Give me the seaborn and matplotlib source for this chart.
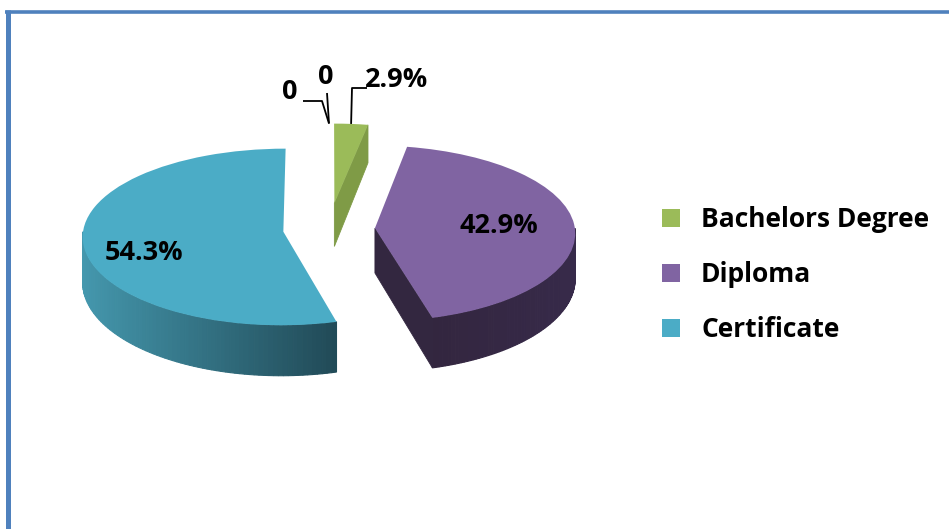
import numpy as np
import matplotlib
matplotlib.use("Agg")
import matplotlib.pyplot as plt
import seaborn as sns
from matplotlib.patches import Polygon
from matplotlib.lines import Line2D
from matplotlib.colors import to_rgb
from matplotlib.transforms import Transform

# ---- data -------------------------------------------------------------
categories = ["", "", "Bachelors Degree", "Diploma", "Certificate"]
shares = [0.0, 0.0, 2.9, 42.9, 54.3]          # percent of respondents
value_labels = ["0", "0", "2.9%", "42.9%", "54.3%"]

# ---- style ------------------------------------------------------------
sns.set_theme(style="white")
FONT = ["Open Sans", "DejaVu Sans"]
plt.rcParams["font.family"] = FONT

top_colors = ["#F79646", "#C0504D", "#9BBB59", "#8064A2", "#4BACC6"]
# rim shading: (left colour, right colour) of the visible outer wall
rim_colors = [None, None, ("#7F9B46", "#7F9B46"),
              ("#33263F", "#372A4A"), ("#4599AF", "#214A57")]
cut_colors = ["#7F9B46", "#7F9B46", "#7F9B46", "#332740", "#2A6676"]
explode = [0.3, 0.3, 0.3, 0.23, 0.23]

W, H = 949, 529
CX, CY = 329, 229          # pie centre, pixels
PX_X, PX_Y = 200, 88       # pixels per data unit (gives the tilted ellipse)
DEPTH = 0.51               # wall height in data units
KX, KY = 0.05, 0.06        # foreshortening of the far side


class Tilt(Transform):
    """Mild perspective: the back of the pie is drawn a little smaller."""
    input_dims = output_dims = 2
    is_separable = False
    has_inverse = False

    def transform_non_affine(self, values):
        v = np.asarray(values, dtype=float)
        x, y = v[..., 0], v[..., 1]
        return np.stack([x * (1 - KX * y), y * (1 - KY * y)], axis=-1)


tilt = Tilt()


def rim_point(x, y):
    """top and bottom of the wall below pie-plane point (x, y), screen data"""
    tx, ty = tilt.transform([[x, y]])[0]
    return (tx, ty), (tx, ty - DEPTH * (1 - 2 * KY * y))


fig = plt.figure(figsize=(W / 100, H / 100), dpi=100)
ax = fig.add_axes([0, 0, 1, 1])

wedges, _ = ax.pie(shares, explode=explode, colors=top_colors, startangle=90,
                   counterclock=False, radius=1,
                   wedgeprops=dict(linewidth=0, zorder=3))
ax.set_aspect("auto")
ax.set_xlim(-CX / PX_X, (W - CX) / PX_X)
ax.set_ylim(-(H - CY) / PX_Y, CY / PX_Y)
ax.axis("off")
pie_tr = tilt + ax.transData
for w in wedges:
    w.set_transform(pie_tr)


def blend(c1, c2, t):
    a, b = np.array(to_rgb(c1)), np.array(to_rgb(c2))
    return tuple(a + (b - a) * t)


# walls of the 3D pie
for w, rim, cut in zip(wedges, rim_colors, cut_colors):
    if w.theta2 - w.theta1 < 1e-6:
        continue
    cx, cy = w.center
    t1, t2 = w.theta1, w.theta2
    # outer wall: only the front half (sin < 0) is visible
    for k in (-1, 0, 1):
        lo, hi = max(t1, -180 + 360 * k), min(t2, 360 * k)
        if hi - lo <= 0:
            continue
        angs = np.radians(np.linspace(lo, hi, 80))
        xs = np.cos(angs)
        span = (xs.min(), xs.max())
        for i in range(len(angs) - 1):
            a0, a1 = angs[i], angs[i + 1]
            xm = 0.5 * (np.cos(a0) + np.cos(a1))
            t = 0 if span[1] == span[0] else (xm - span[0]) / (span[1] - span[0])
            col = blend(rim[0], rim[1], t)
            top0, bot0 = rim_point(cx + np.cos(a0), cy + np.sin(a0))
            top1, bot1 = rim_point(cx + np.cos(a1), cy + np.sin(a1))
            ax.add_patch(Polygon([top0, top1, bot1, bot0], closed=True,
                                 facecolor=col, edgecolor=col, lw=0.8, zorder=2))
    # cut faces along the radii
    for ang, sign in ((t1, 1), (t2, -1)):
        c = np.cos(np.radians(ang))
        if sign * c > 1e-3:
            ctop, cbot = rim_point(cx, cy)
            etop, ebot = rim_point(cx + c, cy + np.sin(np.radians(ang)))
            ax.add_patch(Polygon([ctop, etop, ebot, cbot], closed=True,
                                 facecolor=cut, edgecolor=cut, lw=0.6, zorder=2))


def px(x, y):
    """pixel position -> data coordinates"""
    return (x - CX) / PX_X, (CY - y) / PX_Y


label_font = dict(fontsize=19.5, fontweight="bold", color="black", zorder=5)

# labels inside the two large slices
for i, (rf, dy) in {3: (0.62, 0.0), 4: (0.69, -0.15)}.items():
    w = wedges[i]
    m = np.radians(0.5 * (w.theta1 + w.theta2))
    pos = tilt.transform([[w.center[0] + rf * np.cos(m),
                           w.center[1] + rf * np.sin(m) + dy]])[0]
    ax.text(*pos, value_labels[i], ha="center", va="center", **label_font)

# labels with leader lines for the thin slices at the top
callouts = {0: ((290, 92), (303, 101), (322, 101)),
            1: ((326, 77), (327, 93), (327, 93)),
            2: ((397, 80), (367, 88), (352, 88))}
for i, (lab, start, elbow) in callouts.items():
    w = wedges[i]
    m = np.radians(0.5 * (w.theta1 + w.theta2))
    anchor = tilt.transform([[w.center[0] + np.cos(m), w.center[1] + np.sin(m)]])[0]
    x0, y0 = px(*start)
    x1, y1 = px(*elbow)
    ax.plot([x0, x1, anchor[0]], [y0, y1, anchor[1]], color="black",
            lw=1.3, zorder=4, solid_capstyle="butt")
    ax.text(*px(*lab), value_labels[i], ha="center", va="center", **label_font)

# legend
leg = ax.legend(wedges[2:], categories[2:], loc="center left",
                bbox_to_anchor=(662 / W, 1 - 274.5 / H),
                bbox_transform=fig.transFigure, frameon=False,
                prop=dict(family=FONT, weight="bold", size=19), labelcolor="black",
                handlelength=0.68, handleheight=0.68, handletextpad=0.8,
                labelspacing=1.06, borderpad=0, borderaxespad=0)

# chart frame (left and top edges)
fig.add_artist(Line2D([7.5 / W, 7.5 / W], [0, 1 - 10 / H], transform=fig.transFigure,
                      color="#4F81BD", lw=3.6, solid_capstyle="butt"))
fig.add_artist(Line2D([5 / W, 1], [1 - 11.5 / H] * 2, transform=fig.transFigure,
                      color="#4F81BD", lw=2.6, solid_capstyle="butt"))

fig.savefig("out.png", dpi=100, facecolor="white")
